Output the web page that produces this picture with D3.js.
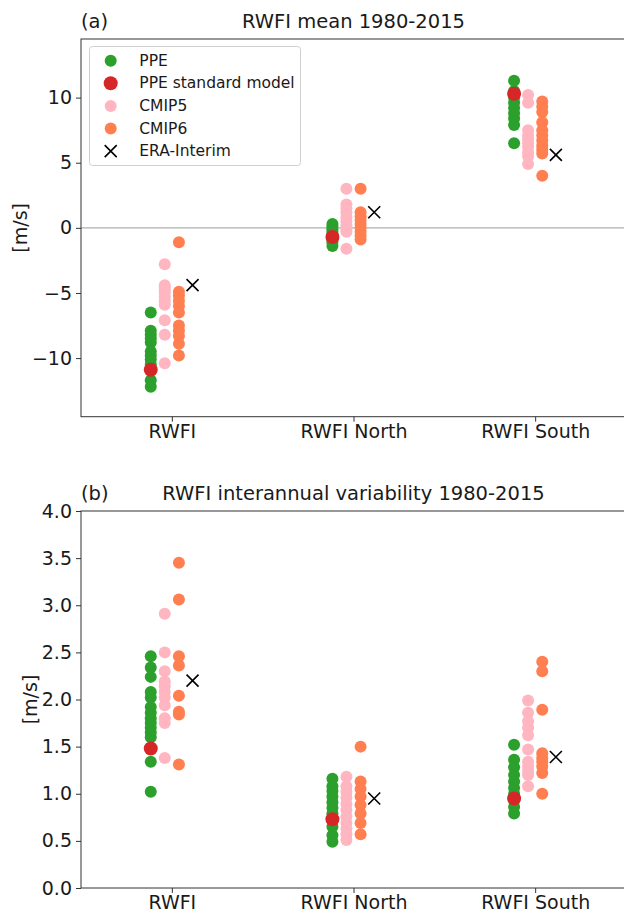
<!DOCTYPE html>
<html>
<head>
<meta charset="utf-8">
<script src="https://cdn.jsdelivr.net/npm/d3@7"></script>
<style>
  body { margin: 0; background: #fff; }
  svg { display: block; font-family: "DejaVu Sans", sans-serif; }
</style>
</head>
<body>
<svg id="chart" width="624" height="913"></svg>
<script>
// Regions on the x axis
const categories = ["RWFI", "RWFI North", "RWFI South"];

// Panel (a): RWFI mean 1980-2015 [m/s]
const meanPPE = [
  [-6.5, -7.9, -8.2, -8.5, -8.8, -9.5, -9.8, -10.1, -10.5, -11.7, -12.2],
  [0.3, 0.1, -0.1, -0.3, -0.5, -0.9, -1.1, -1.4],
  [11.3, 10.5, 10.0, 9.6, 9.2, 8.8, 8.4, 7.9, 6.5]
];
const meanStandard = [-10.9, -0.7, 10.3];
const meanCMIP5 = [
  [-2.8, -4.4, -4.6, -4.8, -5.0, -5.3, -5.6, -5.9, -7.1, -8.2, -10.4],
  [3.0, 1.8, 1.5, 1.2, 0.8, 0.5, 0.2, -0.1, -0.3, -1.6],
  [10.2, 9.6, 7.5, 7.1, 6.8, 6.5, 6.2, 5.8, 5.5, 4.9]
];
const meanCMIP6 = [
  [-1.1, -4.9, -5.2, -5.6, -6.0, -6.5, -7.5, -7.9, -8.3, -8.9, -9.8],
  [3.0, 1.2, 0.9, 0.6, 0.3, 0.0, -0.3, -0.6, -0.9],
  [9.7, 9.3, 8.9, 8.1, 7.5, 7.1, 6.7, 6.3, 6.0, 5.7, 4.0]
];
const meanERA = [-4.4, 1.2, 5.6];
const meanTicks = [-10, -5, 0, 5, 10];

// Panel (b): RWFI interannual variability 1980-2015 [m/s]
const varPPE = [
  [2.46, 2.34, 2.24, 2.08, 2.02, 1.92, 1.86, 1.80, 1.75, 1.70, 1.65, 1.60, 1.34, 1.02],
  [1.16, 1.08, 1.03, 0.97, 0.91, 0.85, 0.79, 0.72, 0.65, 0.56, 0.49],
  [1.52, 1.36, 1.28, 1.20, 1.13, 1.06, 1.00, 0.93, 0.86, 0.79]
];
const varStandard = [1.48, 0.73, 0.95];
const varCMIP5 = [
  [2.91, 2.50, 2.30, 2.19, 2.14, 2.08, 2.02, 1.94, 1.80, 1.75, 1.38],
  [1.18, 1.08, 1.02, 0.96, 0.89, 0.83, 0.76, 0.69, 0.63, 0.57, 0.51],
  [1.99, 1.86, 1.77, 1.70, 1.62, 1.47, 1.34, 1.29, 1.24, 1.20, 1.08]
];
const varCMIP6 = [
  [3.45, 3.06, 2.46, 2.36, 2.04, 1.87, 1.84, 1.31],
  [1.50, 1.13, 1.05, 0.97, 0.88, 0.79, 0.69, 0.57],
  [2.40, 2.30, 1.89, 1.43, 1.38, 1.34, 1.29, 1.22, 1.00]
];
const varERA = [2.20, 0.95, 1.39];
const varTicks = [0, 0.5, 1.0, 1.5, 2.0, 2.5, 3.0, 3.5, 4.0];

// Legend entries
const legendLabels = ["PPE", "PPE standard model", "CMIP5", "CMIP6", "ERA-Interim"];

const colors = {
  ppe: "#2ca02c",
  standard: "#d62728",
  cmip5: "#ffb6c1",
  cmip6: "#ff7f50",
  era: "#000000"
};

const svg = d3.select("#chart");
const left = 81, right = 626;
const fontTick = 19, fontTitle = 19.5, fontLegend = 15.5;

const x = d3.scaleLinear().domain([-0.5, 2.5]).range([left, right]);
// within-group offsets for the four sources
const offsets = { ppe: -0.116, cmip5: -0.039, cmip6: 0.039, era: 0.114 };

function drawPanel(cfg) {
  const g = svg.append("g");
  const y = d3.scaleLinear().domain(cfg.domain).range([cfg.bottom, cfg.top]);

  if (cfg.zeroLine) {
    g.append("line")
      .attr("x1", left).attr("x2", right)
      .attr("y1", y(0)).attr("y2", y(0))
      .attr("stroke", "#b0b0b0").attr("stroke-width", 1.2);
  }

  // Axes
  const yAxis = d3.axisLeft(y).tickValues(cfg.ticks).tickSize(5).tickPadding(4)
    .tickFormat(cfg.fmt);
  const xAxis = d3.axisBottom(x).tickValues([0, 1, 2]).tickSize(5).tickPadding(3)
    .tickFormat(i => categories[i]);

  const ya = g.append("g").attr("transform", `translate(${left},0)`).call(yAxis);
  const xa = g.append("g").attr("transform", `translate(0,${cfg.bottom})`).call(xAxis);
  [ya, xa].forEach(a => {
    a.select(".domain").remove();
    a.selectAll(".tick line").attr("stroke", "#333").attr("stroke-width", 1);
    a.selectAll(".tick text").attr("fill", "#1a1a1a")
      .style("font-size", fontTick + "px").style("font-family", "DejaVu Sans");
  });

  // Frame
  g.append("rect")
    .attr("x", left).attr("y", cfg.top)
    .attr("width", right - left).attr("height", cfg.bottom - cfg.top)
    .attr("fill", "none").attr("stroke", "#333").attr("stroke-width", 1);

  // Points
  const pts = [];
  categories.forEach((c, i) => {
    cfg.ppe[i].forEach(v => pts.push({ k: "ppe", x: i + offsets.ppe, v, r: 6 }));
  });
  categories.forEach((c, i) => {
    pts.push({ k: "standard", x: i + offsets.ppe, v: cfg.standard[i], r: 7 });
  });
  categories.forEach((c, i) => {
    cfg.cmip5[i].forEach(v => pts.push({ k: "cmip5", x: i + offsets.cmip5, v, r: 6 }));
  });
  categories.forEach((c, i) => {
    cfg.cmip6[i].forEach(v => pts.push({ k: "cmip6", x: i + offsets.cmip6, v, r: 6 }));
  });

  g.append("g").selectAll("circle").data(pts).join("circle")
    .attr("cx", d => x(d.x)).attr("cy", d => y(d.v)).attr("r", d => d.r)
    .attr("fill", d => colors[d.k]);

  const s = 6;
  g.append("g").selectAll("path").data(cfg.era).join("path")
    .attr("transform", (v, i) => `translate(${x(i + offsets.era)},${y(v)})`)
    .attr("d", `M${-s},${-s}L${s},${s}M${-s},${s}L${s},${-s}`)
    .attr("stroke", colors.era).attr("stroke-width", 1.6).attr("fill", "none");

  // Titles
  g.append("text").attr("x", left).attr("y", cfg.top - 11)
    .style("font-size", fontTitle + "px").attr("fill", "#1a1a1a").text(cfg.tag);
  g.append("text").attr("x", (left + right) / 2).attr("y", cfg.top - 11)
    .attr("text-anchor", "middle")
    .style("font-size", fontTitle + "px").attr("fill", "#1a1a1a").text(cfg.title);

  // y label
  g.append("text")
    .attr("transform", `translate(${cfg.ylabelX},${(cfg.top + cfg.bottom) / 2}) rotate(-90)`)
    .attr("text-anchor", "middle").attr("dominant-baseline", "central")
    .style("font-size", fontTick + "px").attr("fill", "#1a1a1a").text("[m/s]");

  return g;
}

const minus = d => d3.format("d")(d).replace("-", "\u2212");

drawPanel({
  top: 39, bottom: 416.7, domain: [-14.5, 14.5], ticks: meanTicks, fmt: minus,
  ppe: meanPPE, standard: meanStandard, cmip5: meanCMIP5, cmip6: meanCMIP6, era: meanERA,
  tag: "(a)", title: "RWFI mean 1980-2015", ylabelX: 20, zeroLine: true
});

drawPanel({
  top: 511, bottom: 888, domain: [0, 4], ticks: varTicks, fmt: d3.format(".1f"),
  ppe: varPPE, standard: varStandard, cmip5: varCMIP5, cmip6: varCMIP6, era: varERA,
  tag: "(b)", title: "RWFI interannual variability 1980-2015", ylabelX: 30, zeroLine: false
});

// Legend in panel (a)
const lg = svg.append("g");
lg.append("rect")
  .attr("x", 89.5).attr("y", 46.5).attr("width", 211).attr("height", 119).attr("rx", 3)
  .attr("fill", "#fff").attr("fill-opacity", 0.8)
  .attr("stroke", "#d0d0d0").attr("stroke-width", 1);
const legendKeys = ["ppe", "standard", "cmip5", "cmip6", "era"];
legendLabels.forEach((lab, i) => {
  const yy = 60.7 + i * 22.6;
  const k = legendKeys[i];
  if (k === "era") {
    const s = 6;
    lg.append("path")
      .attr("transform", `translate(110.7,${yy})`)
      .attr("d", `M${-s},${-s}L${s},${s}M${-s},${s}L${s},${-s}`)
      .attr("stroke", "#000").attr("stroke-width", 1.6);
  } else {
    lg.append("circle").attr("cx", 110.7).attr("cy", yy)
      .attr("r", k === "standard" ? 7 : 6).attr("fill", colors[k]);
  }
  lg.append("text").attr("x", 139.3).attr("y", yy)
    .attr("dominant-baseline", "central")
    .style("font-size", fontLegend + "px").attr("fill", "#1a1a1a").text(lab);
});
</script>
</body>
</html>
